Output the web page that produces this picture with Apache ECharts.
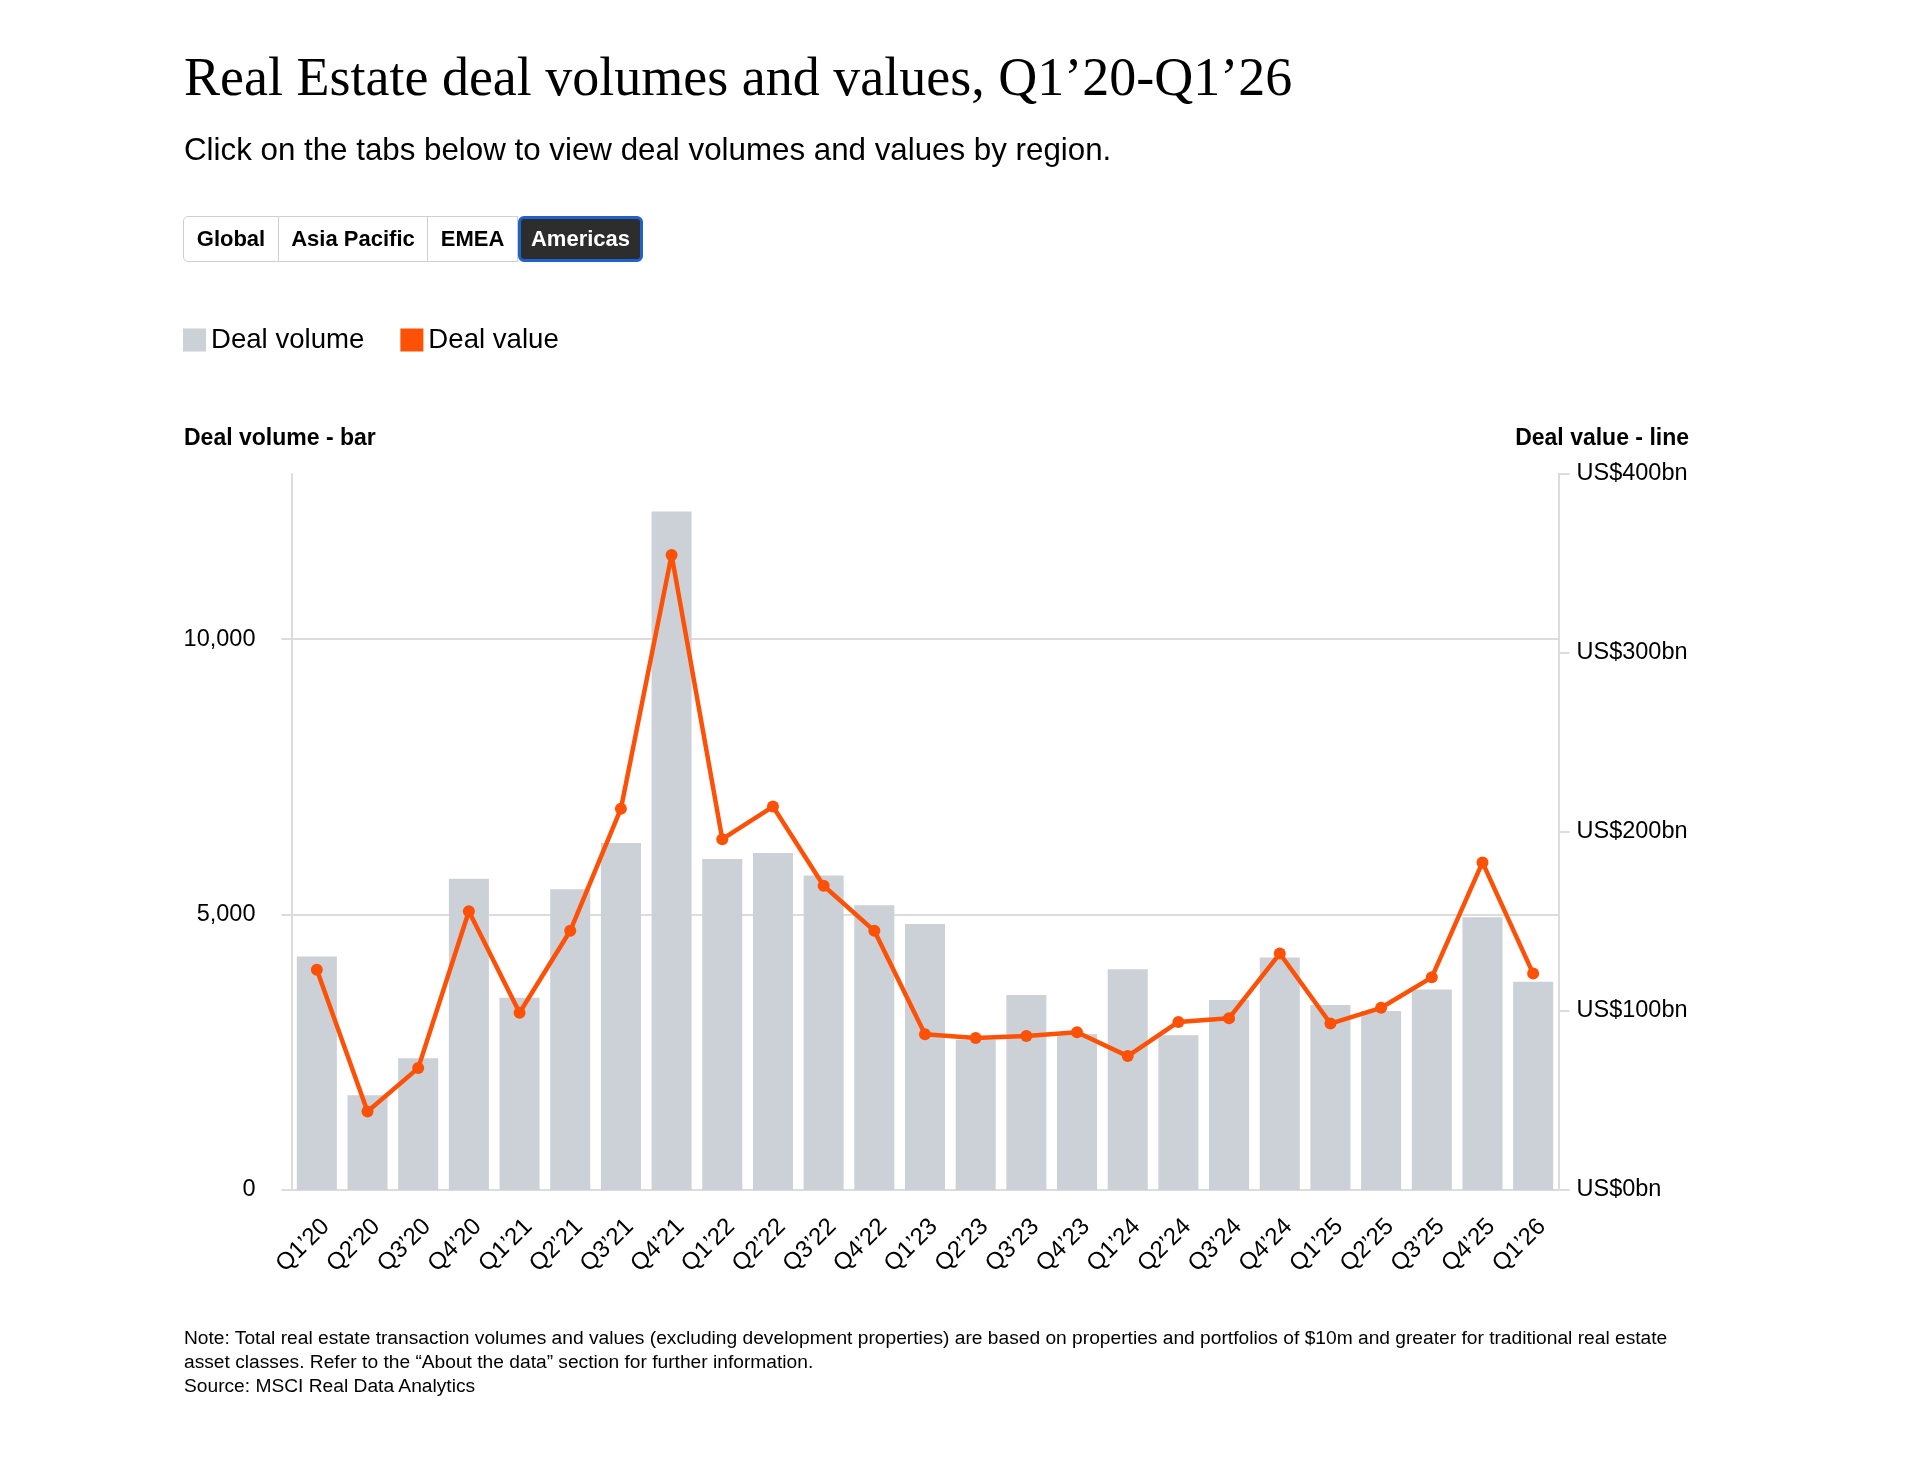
<!DOCTYPE html>
<html lang="en">
<head>
    <meta charset="utf-8">
    <title>Real Estate deal volumes and values, Q1’20-Q1’26</title>
    <script src="https://cdn.jsdelivr.net/npm/echarts@6.0.0/dist/echarts.min.js"></script>
    <style>
        html, body { margin: 0; padding: 0; background: #fff; }
        #page { position: relative; width: 1920px; height: 1457px; overflow: hidden;
                font-family: "Liberation Sans", Arial, sans-serif; color: #000; }
        #main { position: absolute; left: 0; top: 0; width: 1920px; height: 1457px; }
        .title { position: absolute; left: 184px; top: 50px; margin: 0;
                 font-family: "Liberation Serif", "Times New Roman", serif;
                 font-weight: normal; font-size: 54px; line-height: 54px; white-space: nowrap; z-index: 2; }
        .sub { position: absolute; left: 184px; top: 134px; margin: 0;
               font-size: 31.3px; line-height: 32px; white-space: nowrap; z-index: 2; }
        .tabs { position: absolute; left: 183px; top: 216px; height: 46px; display: flex; z-index: 2; }
        .tabs button { height: 46px; box-sizing: border-box; margin: 0; padding: 0;
                       font-family: "Liberation Sans", Arial, sans-serif; font-weight: bold; font-size: 22px;
                       color: #000; background: #fff; border: 1.5px solid #cfcfcf; border-left: none; cursor: pointer; }
        .tabs button:first-child { border-left: 1.5px solid #cfcfcf; border-radius: 5px 0 0 5px; }
        .tabs button.active { background: #2d2d2d; color: #fff; border: 3px solid #1d63c9; border-radius: 6px; }
        .note { position: absolute; left: 184px; top: 1326px; margin: 0;
                font-size: 19.2px; line-height: 24px; white-space: nowrap; z-index: 2; }
    </style>
</head>
<body>
<div id="page">
    <div id="main"></div>
    <h1 class="title">Real Estate deal volumes and values, Q1’20-Q1’26</h1>
    <p class="sub">Click on the tabs below to view deal volumes and values by region.</p>
    <div class="tabs">
        <button style="width:96px">Global</button>
        <button style="width:149px">Asia Pacific</button>
        <button style="width:90px">EMEA</button>
        <button class="active" style="width:125px">Americas</button>
    </div>
    <p class="note">Note: Total real estate transaction volumes and values (excluding development properties) are based on properties and portfolios of $10m and greater for traditional real estate<br>asset classes. Refer to the “About the data” section for further information.<br>Source: MSCI Real Data Analytics</p>
</div>
<script type="text/javascript">
    // quarters
    var categories = ['Q1’20', 'Q2’20', 'Q3’20', 'Q4’20', 'Q1’21', 'Q2’21', 'Q3’21', 'Q4’21',
        'Q1’22', 'Q2’22', 'Q3’22', 'Q4’22', 'Q1’23', 'Q2’23', 'Q3’23', 'Q4’23',
        'Q1’24', 'Q2’24', 'Q3’24', 'Q4’24', 'Q1’25', 'Q2’25', 'Q3’25', 'Q4’25', 'Q1’26'];
    // deal volume (number of deals) - bars
    var dealVolume = [4240, 1720, 2390, 5650, 3490, 5460, 6300, 12320,
        6010, 6120, 5710, 5170, 4830, 2730, 3540, 2830,
        4010, 2810, 3450, 4220, 3360, 3250, 3640, 4950, 3780];
    // deal value (US$bn) - line
    var dealValue = [123.0, 43.9, 68.1, 155.7, 99.0, 144.8, 213.0, 354.8,
        196.0, 214.2, 170.0, 144.8, 87.0, 84.9, 86.0, 88.1,
        74.8, 93.9, 96.0, 132.1, 93.0, 101.8, 118.8, 183.0, 120.9];
    // axis ticks
    var volumeTicks = [0, 5000, 10000];
    var valueTicks = [0, 100, 200, 300, 400];

    var FONT = '"Liberation Sans", Arial, sans-serif';
    var GREY = '#cbd1d6';
    var ORANGE = '#fd5108';
    var RULE = '#dcdcdc';

    var myChart = echarts.init(document.getElementById('main'), null, {renderer: 'canvas'});

    var option = {
        animation: false,
        textStyle: {fontFamily: FONT, color: '#000'},
        legend: {
            left: 183,
            top: 326,
            padding: 0,
            icon: 'rect',
            itemWidth: 23,
            itemHeight: 23,
            itemGap: 36,
            selectedMode: false,
            textStyle: {fontSize: 27.6, color: '#000', fontFamily: FONT},
            data: ['Deal volume', 'Deal value']
        },
        graphic: [
            {type: 'text', x: 184, y: 439,
                style: {text: 'Deal volume - bar', font: 'bold 23px ' + FONT, fill: '#000',
                    align: 'left', verticalAlign: 'middle', textAlign: 'left', textVerticalAlign: 'middle'}},
            {type: 'text', x: 1689, y: 439,
                style: {text: 'Deal value - line', font: 'bold 23px ' + FONT, fill: '#000',
                    align: 'right', verticalAlign: 'middle', textAlign: 'right', textVerticalAlign: 'middle'}}
        ],
        grid: {
            left: 291.5,
            top: 474,
            width: 1267,
            height: 716,
            containLabel: false,
            outerBoundsMode: 'none'
        },
        xAxis: {
            type: 'category',
            data: categories,
            boundaryGap: true,
            axisLine: {show: true, lineStyle: {color: RULE, width: 2}},
            axisTick: {show: false},
            axisLabel: {
                interval: 0,
                rotate: 45,
                margin: 24,
                verticalAlign: 'top',
                lineHeight: 25,
                fontSize: 24,
                color: '#000',
                fontFamily: FONT
            },
            splitLine: {show: false}
        },
        yAxis: [
            {
                type: 'value',
                position: 'left',
                min: 0,
                max: 13000,
                interval: 5000,
                axisLine: {show: true, lineStyle: {color: RULE, width: 2}},
                axisTick: {show: true, length: 10, customValues: volumeTicks, lineStyle: {color: RULE, width: 2}},
                axisLabel: {
                    customValues: volumeTicks,
                    margin: 36,
                    fontSize: 23.5,
                    color: '#000',
                    fontFamily: FONT,
                    formatter: function (v) { return v.toLocaleString('en-US'); }
                },
                splitLine: {show: true, showMinLine: false, lineStyle: {color: RULE, width: 2}}
            },
            {
                type: 'value',
                position: 'right',
                min: 0,
                max: 400,
                interval: 100,
                axisLine: {show: true, lineStyle: {color: RULE, width: 2}},
                axisTick: {show: true, length: 11, customValues: valueTicks, lineStyle: {color: RULE, width: 2}},
                axisLabel: {
                    customValues: valueTicks,
                    margin: 18,
                    fontSize: 23.5,
                    color: '#000',
                    fontFamily: FONT,
                    formatter: function (v) { return 'US$' + v + 'bn'; }
                },
                splitLine: {show: false}
            }
        ],
        series: [
            {
                name: 'Deal volume',
                type: 'bar',
                yAxisIndex: 0,
                data: dealVolume,
                barCategoryGap: '21%',
                itemStyle: {color: GREY},
                emphasis: {disabled: true}
            },
            {
                name: 'Deal value',
                type: 'line',
                yAxisIndex: 1,
                data: dealValue,
                symbol: 'circle',
                symbolSize: 12,
                lineStyle: {color: ORANGE, width: 4.5},
                itemStyle: {color: ORANGE},
                emphasis: {disabled: true},
                z: 5
            }
        ]
    };

    myChart.setOption(option);
</script>
</body>
</html>
